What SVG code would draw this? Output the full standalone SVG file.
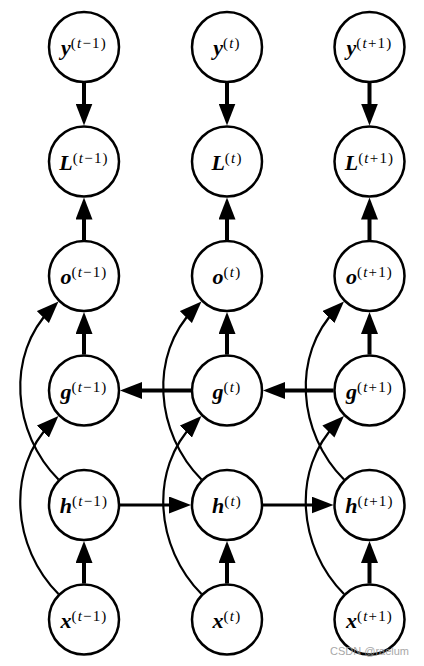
<svg xmlns="http://www.w3.org/2000/svg" width="424" height="666" viewBox="0 0 424 666">
<style>
.n circle{fill:#fff;stroke:#000;stroke-width:2.5}
.n text{font-family:"Liberation Serif","DejaVu Serif",serif;text-anchor:middle;fill:#000}
.v{font-size:22px;font-weight:bold;font-style:italic}
.s{font-size:15px;letter-spacing:1.2px;font-weight:normal;font-style:normal}
.i{font-style:italic}
.e path{fill:none;stroke:#000;marker-end:url(#ah)}
.k{stroke-width:4}
.m{stroke-width:3}
.c{stroke-width:2.2}
.wm{font-family:"Liberation Sans",Arial,sans-serif;font-size:11px;fill:#999;opacity:.85}
</style>
<defs>
<marker id="ah" viewBox="0 0 22 17" refX="12" refY="8.5" markerWidth="22" markerHeight="17" markerUnits="userSpaceOnUse" orient="auto"><path d="M0,0 L22,8.5 L0,17 z" fill="#000"/></marker>
</defs>
<rect width="424" height="666" fill="#fff"/>
<g id="connectors" class="e">
<path class="k" d="M84,83 L84,115.5"/>
<path class="k" d="M227,83 L227,115.5"/>
<path class="k" d="M369.5,83 L369.5,115.5"/>
<path class="k" d="M84,240 L84,207.5"/>
<path class="k" d="M227,240 L227,207.5"/>
<path class="k" d="M369.5,240 L369.5,207.5"/>
<path class="k" d="M84,354.5 L84,322"/>
<path class="k" d="M227,354.5 L227,322"/>
<path class="k" d="M369.5,354.5 L369.5,322"/>
<path class="k" d="M84,583.5 L84,551"/>
<path class="k" d="M227,583.5 L227,551"/>
<path class="k" d="M369.5,583.5 L369.5,551"/>
<path class="k" d="M191,390.5 L130,390.5"/>
<path class="k" d="M333.5,390.5 L273,390.5"/>
<path class="m" d="M120,505 L181,505"/>
<path class="m" d="M263,505 L323.5,505"/>
<path class="c" d="M58.5,479.5 C12.5,433.5 5.4,354.6 51.4,308.6"/>
<path class="c" d="M58.5,594 C12.5,548 5.4,469.1 51.4,423.1"/>
<path class="c" d="M201.5,479.5 C155.5,433.5 148.4,354.6 194.4,308.6"/>
<path class="c" d="M201.5,594 C155.5,548 148.4,469.1 194.4,423.1"/>
<path class="c" d="M344,479.5 C298,433.5 290.9,354.6 336.9,308.6"/>
<path class="c" d="M344,594 C298,548 290.9,469.1 336.9,423.1"/>
</g>
<g id="y1" class="n"><circle cx="84" cy="47" r="35"/><text x="84" y="55"><tspan class="v">y</tspan><tspan class="s" dy="-7">(<tspan class="i">t</tspan>−1)</tspan></text></g>
<g id="y2" class="n"><circle cx="227" cy="47" r="35"/><text x="227" y="55"><tspan class="v">y</tspan><tspan class="s" dy="-7">(<tspan class="i">t</tspan>)</tspan></text></g>
<g id="y3" class="n"><circle cx="369.5" cy="47" r="35"/><text x="369.5" y="55"><tspan class="v">y</tspan><tspan class="s" dy="-7">(<tspan class="i">t</tspan>+1)</tspan></text></g>
<g id="L1" class="n"><circle cx="84" cy="161.5" r="35"/><text x="84" y="169.5"><tspan class="v">L</tspan><tspan class="s" dy="-7">(<tspan class="i">t</tspan>−1)</tspan></text></g>
<g id="L2" class="n"><circle cx="227" cy="161.5" r="35"/><text x="227" y="169.5"><tspan class="v">L</tspan><tspan class="s" dy="-7">(<tspan class="i">t</tspan>)</tspan></text></g>
<g id="L3" class="n"><circle cx="369.5" cy="161.5" r="35"/><text x="369.5" y="169.5"><tspan class="v">L</tspan><tspan class="s" dy="-7">(<tspan class="i">t</tspan>+1)</tspan></text></g>
<g id="o1" class="n"><circle cx="84" cy="276" r="35"/><text x="84" y="284"><tspan class="v">o</tspan><tspan class="s" dy="-7">(<tspan class="i">t</tspan>−1)</tspan></text></g>
<g id="o2" class="n"><circle cx="227" cy="276" r="35"/><text x="227" y="284"><tspan class="v">o</tspan><tspan class="s" dy="-7">(<tspan class="i">t</tspan>)</tspan></text></g>
<g id="o3" class="n"><circle cx="369.5" cy="276" r="35"/><text x="369.5" y="284"><tspan class="v">o</tspan><tspan class="s" dy="-7">(<tspan class="i">t</tspan>+1)</tspan></text></g>
<g id="g1" class="n"><circle cx="84" cy="390.5" r="35"/><text x="84" y="398.5"><tspan class="v">g</tspan><tspan class="s" dy="-7">(<tspan class="i">t</tspan>−1)</tspan></text></g>
<g id="g2" class="n"><circle cx="227" cy="390.5" r="35"/><text x="227" y="398.5"><tspan class="v">g</tspan><tspan class="s" dy="-7">(<tspan class="i">t</tspan>)</tspan></text></g>
<g id="g3" class="n"><circle cx="369.5" cy="390.5" r="35"/><text x="369.5" y="398.5"><tspan class="v">g</tspan><tspan class="s" dy="-7">(<tspan class="i">t</tspan>+1)</tspan></text></g>
<g id="h1" class="n"><circle cx="84" cy="505" r="35"/><text x="84" y="513"><tspan class="v">h</tspan><tspan class="s" dy="-7">(<tspan class="i">t</tspan>−1)</tspan></text></g>
<g id="h2" class="n"><circle cx="227" cy="505" r="35"/><text x="227" y="513"><tspan class="v">h</tspan><tspan class="s" dy="-7">(<tspan class="i">t</tspan>)</tspan></text></g>
<g id="h3" class="n"><circle cx="369.5" cy="505" r="35"/><text x="369.5" y="513"><tspan class="v">h</tspan><tspan class="s" dy="-7">(<tspan class="i">t</tspan>+1)</tspan></text></g>
<g id="x1" class="n"><circle cx="84" cy="619.5" r="35"/><text x="84" y="627.5"><tspan class="v">x</tspan><tspan class="s" dy="-7">(<tspan class="i">t</tspan>−1)</tspan></text></g>
<g id="x2" class="n"><circle cx="227" cy="619.5" r="35"/><text x="227" y="627.5"><tspan class="v">x</tspan><tspan class="s" dy="-7">(<tspan class="i">t</tspan>)</tspan></text></g>
<g id="x3" class="n"><circle cx="369.5" cy="619.5" r="35"/><text x="369.5" y="627.5"><tspan class="v">x</tspan><tspan class="s" dy="-7">(<tspan class="i">t</tspan>+1)</tspan></text></g>
<text class="wm" x="330" y="655">CSDN @raelum</text>
</svg>
